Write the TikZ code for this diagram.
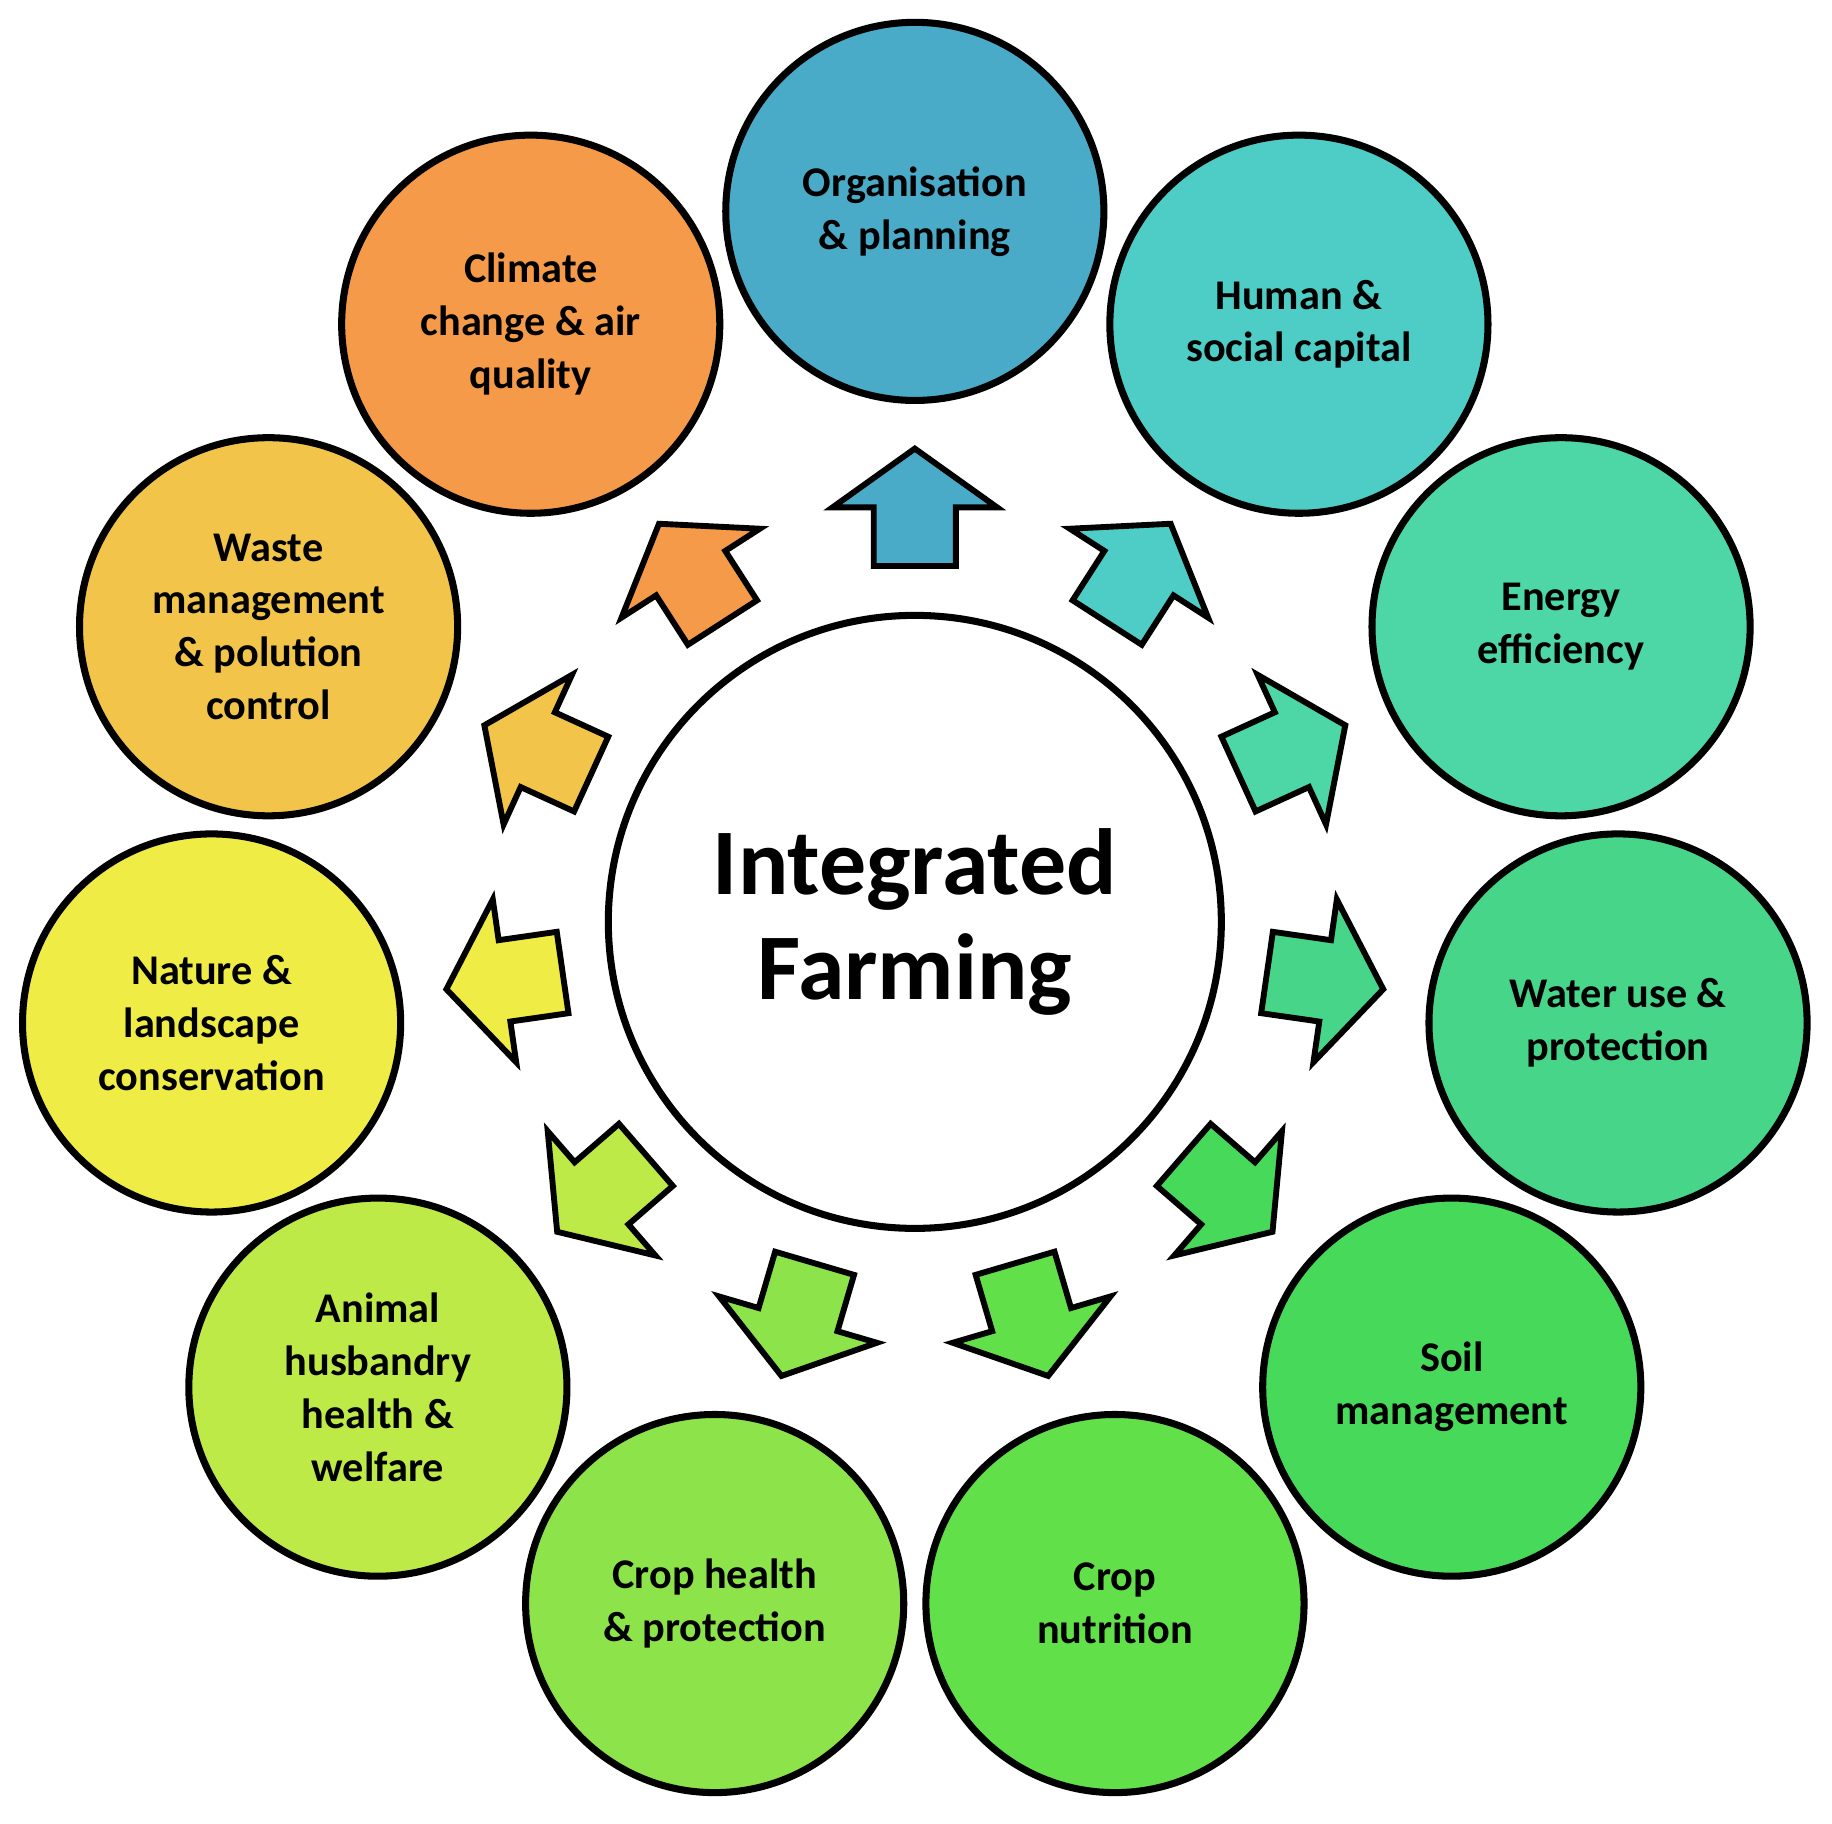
\documentclass[tikz,border=0pt]{standalone}
\usepackage{fontspec}
\setmainfont{Carlito}
\usetikzlibrary{calc}
\definecolor{c0}{HTML}{4AABC8}
\definecolor{c1}{HTML}{4ECDC6}
\definecolor{c2}{HTML}{4DD6A6}
\definecolor{c3}{HTML}{47D58A}
\definecolor{c4}{HTML}{47D95A}
\definecolor{c5}{HTML}{62E04A}
\definecolor{c6}{HTML}{8CE44A}
\definecolor{c7}{HTML}{BEEA48}
\definecolor{c8}{HTML}{F0EC46}
\definecolor{c9}{HTML}{F2C44A}
\definecolor{c10}{HTML}{F59A48}
\begin{document}
\begin{tikzpicture}[x=0.5pt,y=-0.5pt,
  topic/.style={circle,draw=black,line width=3pt,minimum size=161pt,inner sep=0pt,align=center,font=\fontsize{18}{22.5}\selectfont\bfseries},
  arr/.style={draw=black,line width=2.5pt,line join=miter}]
\useasboundingbox (0,0) rectangle (1560,1553);
\node[circle,draw=black,line width=3pt,fill=white,minimum size=261pt,align=center,font=\fontsize{40}{45}\selectfont\bfseries] (center) at (779,785) {Integrated\\Farming};
\foreach \k/\t in {0/{Organisation\\\& planning},1/{Human \&\\social capital},2/{Energy\\efficiency},3/{Water use \&\\protection},4/{Soil\\management},5/{Crop\\nutrition},6/{Crop health\\\& protection},7/{Animal\\husbandry\\health \&\\welfare},8/{Nature \&\\landscape\\conservation},9/{Waste\\management\\\& polution\\control},10/{Climate\\change \& air\\quality}}{
  \pgfmathsetmacro{\ang}{90-\k*360/11}
  \node[topic,fill=c\k] (t\k) at ($(779,785)+(\ang:605 and -605)$) {\t};
  \begin{scope}[shift={(779,785)},rotate=\ang]
    \draw[arr,fill=c\k] (303,-35) -- (353,-35) -- (353,-70) -- (403,0) -- (353,70) -- (353,35) -- (303,35) -- cycle;
  \end{scope}
}
\end{tikzpicture}
\end{document}
